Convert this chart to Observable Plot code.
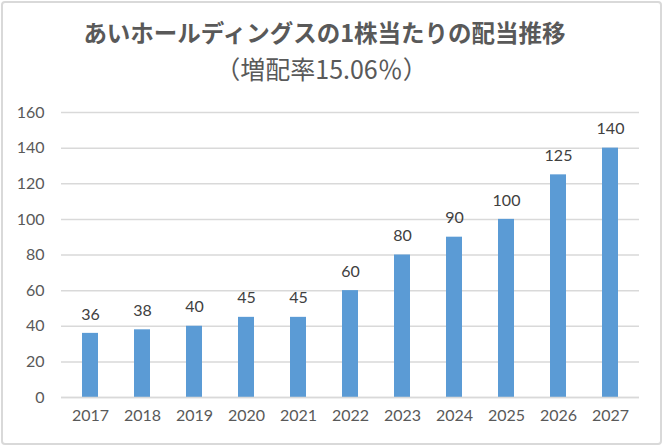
<!DOCTYPE html>
<html><head><meta charset="utf-8">
<script src="https://cdn.jsdelivr.net/npm/d3@7"></script>
<script src="https://cdn.jsdelivr.net/npm/@observablehq/plot@0.6"></script>
<style>
body{margin:0;background:#fff;}
#wrap{position:relative;width:663px;height:446px;overflow:hidden;background:#fff;}
#frame{position:absolute;left:1px;top:1px;width:657px;height:440px;border:2px solid #d9d9d9;border-radius:4px;pointer-events:none;}
#title{height:95px;text-align:center;color:#595959;font-family:"Noto Sans CJK JP",sans-serif;padding-right:14px;}
#t1{font-size:23.5px;font-weight:bold;padding-top:18px;line-height:28px;}
#t2{font-size:25px;line-height:30px;padding-top:7px;padding-right:6px;}
</style></head>
<body><div id="wrap"><div id="title"><div id="t1">あいホールディングスの1株当たりの配当推移</div><div id="t2">（増配率15.06％）</div></div><div id="chart"></div><div id="frame"></div></div>
<script>
const years = ["2017","2018","2019","2020","2021","2022","2023","2024","2025","2026","2027"];
const dividends = [36, 38, 40, 45, 45, 60, 80, 90, 100, 125, 140];
const yTicks = [0, 20, 40, 60, 80, 100, 120, 140, 160];
const data = years.map((y, i) => ({year: y, value: dividends[i]}));
const plot = Plot.plot({
  width: 663, height: 342,
  marginTop: 17, marginBottom: 40, marginLeft: 61, marginRight: 24,
  style: {fontFamily: "Lato, sans-serif", fontSize: "16px", color: "#595959", background: "transparent"},
  x: {domain: years, paddingInner: 0.7, paddingOuter: 0.35, label: null, tickSize: 0, tickPadding: 12},
  y: {domain: [0, 160], ticks: yTicks, label: null, tickSize: 0, tickPadding: 17},
  marks: [
    Plot.gridY(yTicks, {stroke: "#d9d9d9", strokeOpacity: 1, strokeWidth: 1.5}),
    Plot.barY(data, {x: "year", y: "value", fill: "#5b9bd5"}),
    Plot.ruleY([0], {stroke: "#d9d9d9", strokeWidth: 1.5}),
    Plot.text(data, {x: "year", y: "value", text: d => String(d.value), dy: -19, fill: "#404040", fontSize: 16})
  ]
});
document.getElementById("chart").appendChild(plot);
</script></body></html>
